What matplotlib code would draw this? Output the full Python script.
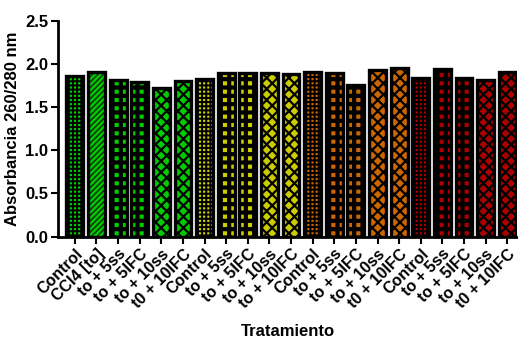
import numpy as np
import matplotlib
matplotlib.use("Agg")
import matplotlib.pyplot as plt

labels = ["Control", "CCl4 [to]", "to + 5ss", "to + 5IFC", "to + 10ss", "t0 + 10IFC",
          "Control", "to + 5ss", "to + 5IFC", "to + 10ss", "to + 10IFC",
          "Control", "to + 5ss", "to + 5IFC", "to + 10ss", "t0 + 10IFC",
          "Control", "to + 5ss", "to + 5IFC", "to + 10ss", "t0 + 10IFC"]
values = [1.86, 1.91, 1.81, 1.79, 1.72, 1.80,
          1.82, 1.90, 1.89, 1.90, 1.88,
          1.91, 1.89, 1.76, 1.93, 1.95,
          1.84, 1.94, 1.84, 1.81, 1.91]
group_sizes = [6, 5, 5, 5]
group_colors = ["#00CC00", "#CCCC00", "#CC6600", "#AA0000"]

plt.rcParams['font.family'] = ['Liberation Sans', 'DejaVu Sans']
plt.rcParams['font.weight'] = 'bold'

# pattern per bar: (kind, hatch, hatch line width)
ctrl = ("col", "++++", 1.4)
diag = ("diag", "//////", 1.2)
check = ("col", "++", 3.0)
diam = ("col", "xxx", 1.6)
patterns_first = [ctrl, diag, check, check, diam, diam]
patterns_rest = [ctrl, check, check, diam, diam]

colors = []
styles = []
for g, (n, c) in enumerate(zip(group_sizes, group_colors)):
    colors += [c] * n
    styles += patterns_first if g == 0 else patterns_rest

fig = plt.figure(figsize=(5.18, 3.39), dpi=100)
ax = fig.add_axes([0.112, 0.302, 0.886, 0.637])

x = np.arange(len(values))
for i, (v, c, (kind, h, hlw)) in enumerate(zip(values, colors, styles)):
    hatch_col = "#0a3a0a" if kind == "diag" else "black"
    with plt.rc_context({'hatch.linewidth': hlw}):
        bars = ax.bar(x[i], v, width=0.78, color=c, edgecolor=hatch_col, hatch=h, linewidth=0)
    for p in bars:
        if hasattr(p, "set_hatch_linewidth"):
            p.set_hatch_linewidth(hlw)
    ax.bar(x[i], v, width=0.78, fill=False, edgecolor="black", linewidth=2.4)

ax.set_xlim(-0.78, 20.45)
ax.set_ylim(0, 2.5)
ax.set_yticks([0.0, 0.5, 1.0, 1.5, 2.0, 2.5])
ax.set_yticklabels(["0.0", "0.5", "1.0", "1.5", "2.0", "2.5"], fontsize=12, fontweight='bold')
ax.set_xticks(x)
ax.set_xticklabels(labels, rotation=45, ha='right', rotation_mode='anchor', fontsize=11.5, fontweight='bold')
ax.tick_params(axis='both', direction='out', length=5, width=1.5, pad=2)
ax.spines['top'].set_visible(False)
ax.spines['right'].set_visible(False)
ax.spines['left'].set_linewidth(2)
ax.spines['bottom'].set_linewidth(2)
ax.set_ylabel("Absorbancia 260/280 nm", fontsize=12, fontweight='bold', labelpad=4)
ax.set_xlabel("Tratamiento", fontsize=12, fontweight='bold', labelpad=9)

fig.savefig("out.png", dpi=100)
